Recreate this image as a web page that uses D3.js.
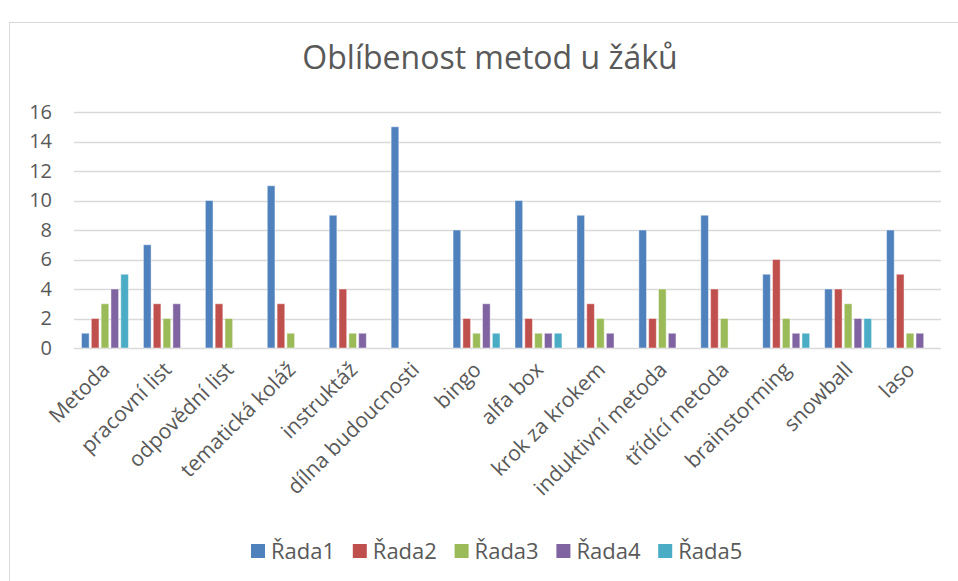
<!DOCTYPE html>
<html><head><meta charset="utf-8">
<script src="https://cdn.jsdelivr.net/npm/d3@7"></script>
<style>body{margin:0;background:#fff}svg{display:block;font-family:"Open Sans",sans-serif}</style>
</head><body><svg id="c" width="958" height="581"></svg>
<script>
const categories = ["Metoda","pracovní list","odpovědní list","tematická koláž","instruktáž","dílna budoucnosti","bingo","alfa box","krok za krokem","induktivní metoda","třídící metoda","brainstorming","snowball","laso"];
const seriesNames = ["Řada1","Řada2","Řada3","Řada4","Řada5"];
const rada1 = [1,7,10,11,9,15,8,10,9,8,9,5,4,8];
const rada2 = [2,3,3,3,4,0,2,2,3,2,4,6,4,5];
const rada3 = [3,2,2,1,1,0,1,1,2,4,2,2,3,1];
const rada4 = [4,3,0,0,1,0,3,1,1,1,0,1,2,1];
const rada5 = [5,0,0,0,0,0,1,1,0,0,0,1,2,0];
const yTicks = [0,2,4,6,8,10,12,14,16];
const colors = ["#4F81BD","#C0504D","#9BBB59","#8064A2","#4BACC6"];
const chartTitle = "Oblíbenost metod u žáků";

const values = [rada1,rada2,rada3,rada4,rada5];
const svg = d3.select("#c");
svg.append("rect").attr("x",9.5).attr("y",22.5).attr("width",960).attr("height",570)
  .attr("fill","#fff").attr("stroke","#D9D9D9");

const pLeft=74,pRight=941,pTop=112,pBottom=348;
const x0 = d3.scaleBand().domain(categories).range([pLeft,pRight]).padding(0);
const x1 = d3.scaleBand().domain(seriesNames).range([7.5, x0.bandwidth()-7.5]).paddingInner(0.22).paddingOuter(0);
const y = d3.scaleLinear().domain([0,16]).range([pBottom,pTop]);

svg.append("text").attr("x",490).attr("y",69).attr("text-anchor","middle")
  .attr("font-size",32).attr("fill","#595959").text(chartTitle);

// grid
svg.append("g").selectAll("line").data(yTicks).join("line")
  .attr("x1",pLeft).attr("x2",pRight).attr("y1",d=>Math.round(y(d))+0.5).attr("y2",d=>Math.round(y(d))+0.5)
  .attr("stroke","#D9D9D9").attr("stroke-width",1.3);

// y axis labels
const ya = svg.append("g").attr("transform",`translate(${pLeft},0)`)
  .call(d3.axisLeft(y).tickValues(yTicks).tickSize(0).tickPadding(22));
ya.select(".domain").remove();
ya.selectAll("text").attr("font-size",20).attr("fill","#595959").attr("font-family","Open Sans");

// bars
const data = [];
categories.forEach((c,i)=>seriesNames.forEach((s,j)=>{ if(values[j][i]>0) data.push({c,s,v:values[j][i],j}); }));
svg.append("g").selectAll("rect").data(data).join("rect")
  .attr("x",d=>x0(d.c)+x1(d.s)).attr("width",x1.bandwidth())
  .attr("y",d=>y(d.v)).attr("height",d=>y(0)-y(d.v))
  .attr("fill",d=>colors[d.j]).attr("stroke","rgba(255,255,255,0.45)").attr("stroke-width",1);

// x labels
const xa = svg.append("g").attr("transform",`translate(0,${pBottom})`)
  .call(d3.axisBottom(x0).tickSize(0).tickPadding(0));
xa.select(".domain").remove();
xa.selectAll("text").attr("font-size",21).attr("fill","#595959").attr("font-family","Open Sans")
  .attr("text-anchor","end").attr("dy",0)
  .attr("transform","translate(6,23) rotate(-45)");

// legend
const lg = svg.append("g").attr("transform","translate(251,551)");
seriesNames.forEach((s,i)=>{
  const g = lg.append("g").attr("transform",`translate(${i*101.8},0)`);
  g.append("rect").attr("x",0).attr("y",-7).attr("width",14).attr("height",14).attr("fill",colors[i]);
  g.append("text").attr("x",20).attr("y",0).attr("dy","0.35em").attr("font-size",22).attr("fill","#595959").text(s);
});
</script></body></html>
